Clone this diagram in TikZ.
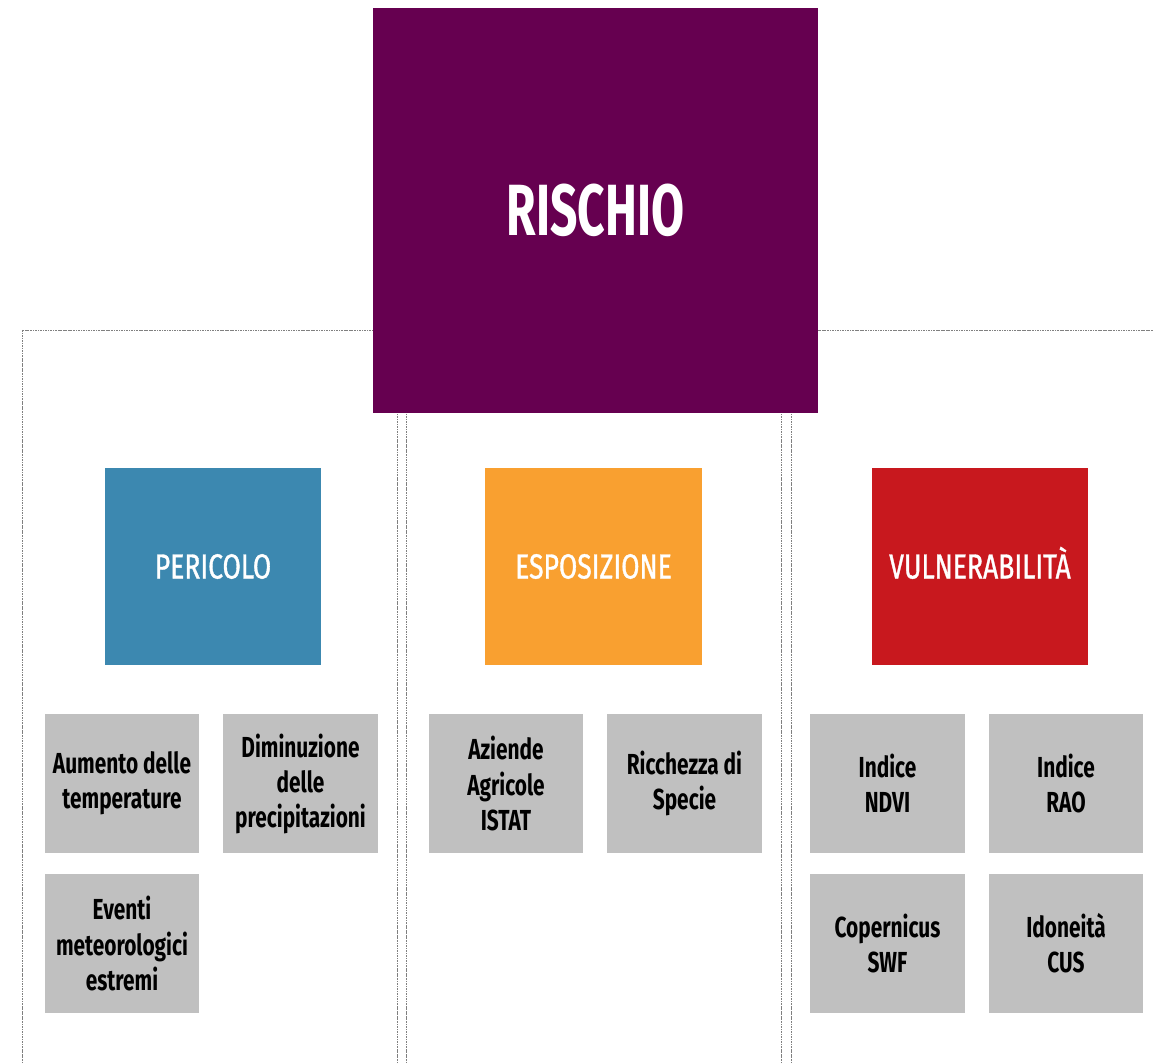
\documentclass[tikz,border=0pt]{standalone}
\usepackage{fontspec}
\newfontfamily\dinfont{Fira Sans}[FakeStretch=0.72]
\newfontfamily\headfont{Fira Sans}[FakeStretch=0.76, FakeBold=1]
\newfontfamily\titlefont{Fira Sans}[FakeStretch=0.66]
\usetikzlibrary{positioning}

\definecolor{rischioC}{RGB}{102,0,80}
\definecolor{pericoloC}{RGB}{60,136,176}
\definecolor{esposizioneC}{RGB}{249,160,48}
\definecolor{vulnC}{RGB}{200,24,30}
\definecolor{itemC}{RGB}{192,192,192}

\tikzset{
  panel/.style={draw=gray, line width=0.6pt, dash pattern=on 1.2pt off 0.6pt},
  head/.style={inner sep=0pt, minimum width=5.4cm, minimum height=4.925cm,
    text=white, text height=17.1pt, text depth=0pt,
    font=\headfont\fontsize{24.8}{28}\selectfont},
  item/.style={fill=itemC, inner sep=0pt, minimum width=3.85cm, minimum height=3.475cm,
    align=center, font=\dinfont\bfseries\fontsize{20.6}{24.9}\selectfont}
}

\begin{document}
\begin{tikzpicture}[x=0.025cm, y=-0.025cm]
\useasboundingbox (0,0) rectangle (1153,1064);
\clip (0,0) rectangle (1153,1064);

% dotted panels
\draw[panel] (22,330) rectangle (397,1090);
\draw[panel] (406,330) rectangle (781,1090);
\draw[panel] (791,330) rectangle (1180,1090);

% top box
\node[fill=rischioC, inner sep=0pt, minimum width=11.125cm, minimum height=10.125cm,
  text=white, text height=35.6pt, text depth=0pt,
  font=\titlefont\bfseries\fontsize{51.6}{56}\selectfont] (rischio) at (595.5,210.5) {RISCHIO};

% the three factors
\node[head, fill=pericoloC] (pericolo) at (213,566.5) {PERICOLO};
\node[head, fill=esposizioneC] (esposizione) at (593.5,566.5) {ESPOSIZIONE};
\node[head, fill=vulnC] (vuln) at (980,566.5) {VULNERABILITÀ};

% indicators
\node[item] (temp) at (122,783.5) {Aumento delle\\temperature};
\node[item] (prec) at (300.5,783.5) {Diminuzione\\delle\\precipitazioni};
\node[item] (eventi) at (122,943.5) {Eventi\\meteorologici\\estremi};

\node[item] (aziende) at (506,783.5) {Aziende\\Agricole\\ISTAT};
\node[item] (specie) at (684.5,783.5) {Ricchezza di\\Specie};

\node[item] (ndvi) at (887.5,783.5) {Indice\\NDVI};
\node[item] (rao) at (1066,783.5) {Indice\\RAO};
\node[item] (swf) at (887.5,943.5) {Copernicus\\SWF};
\node[item] (cus) at (1066,943.5) {Idoneità\\CUS};
\end{tikzpicture}
\end{document}
